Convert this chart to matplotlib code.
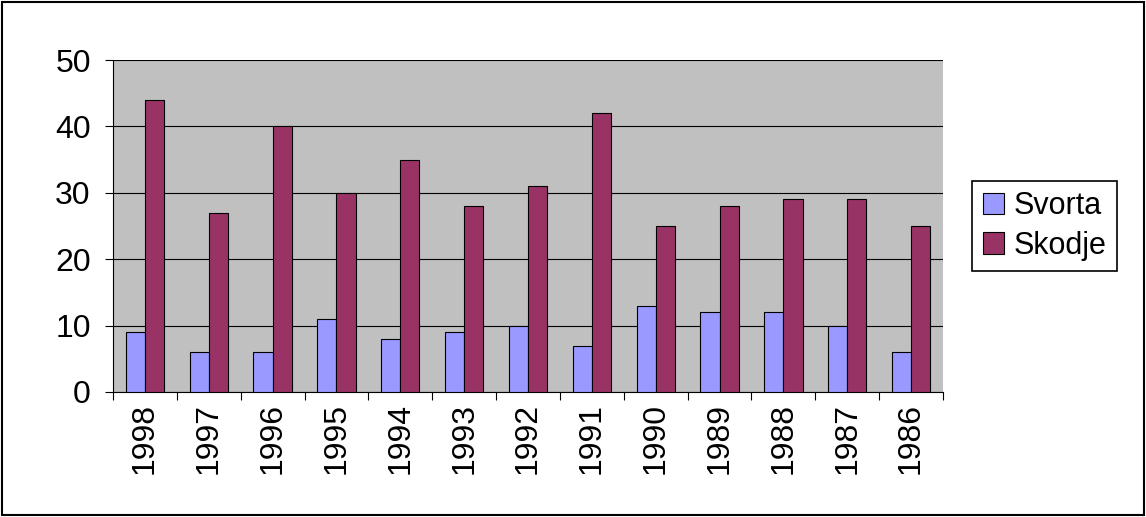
import numpy as np
import matplotlib.pyplot as plt
from matplotlib.patches import Rectangle

plt.rcParams['font.family'] = ['Liberation Sans', 'DejaVu Sans']

years = ["1998", "1997", "1996", "1995", "1994", "1993", "1992", "1991",
         "1990", "1989", "1988", "1987", "1986"]
svorta = [9, 6, 6, 11, 8, 9, 10, 7, 13, 12, 12, 10, 6]
skodje = [44, 27, 40, 30, 35, 28, 31, 42, 25, 28, 29, 29, 25]

fig = plt.figure(figsize=(11.46, 5.17), dpi=100)
fig.patches.append(Rectangle((0.002, 0.004), 0.996, 0.992, transform=fig.transFigure,
                             fill=False, edgecolor="black", linewidth=1.5))
ax = fig.add_axes([0.0986, 0.2418, 0.7243, 0.642])
ax.set_facecolor("#C0C0C0")

x = np.arange(len(years))
w = 0.3
ax.bar(x - w / 2, svorta, w, color="#9999FF", edgecolor="black", linewidth=0.8, label="Svorta", zorder=3)
ax.bar(x + w / 2, skodje, w, color="#993366", edgecolor="black", linewidth=0.8, label="Skodje", zorder=3)

ax.set_xlim(-0.5, len(years) - 0.5)
ax.set_ylim(0, 50)
ax.set_yticks(range(0, 51, 10))
ax.yaxis.grid(True, color="black", linewidth=0.8, zorder=0)
ax.set_axisbelow(True)
ax.set_xticks(np.arange(-0.5, len(years), 1))
ax.set_xticklabels([])
ax.set_xticks(x, minor=True)
ax.set_xticklabels(years, minor=True, rotation=90, fontsize=23)
ax.tick_params(axis="x", which="minor", length=0, pad=8)
ax.tick_params(axis="x", which="major", direction="out", length=6)
ax.tick_params(axis="y", labelsize=23, direction="out", length=6, pad=10)
for s in ["top", "right"]:
    ax.spines[s].set_visible(False)

leg = ax.legend(loc="center left", bbox_to_anchor=(1.035, 0.5), fontsize=22,
                frameon=True, fancybox=False, edgecolor="black",
                handlelength=0.7, handleheight=0.7, handletextpad=0.3,
                borderpad=0.35, labelspacing=0.3, borderaxespad=0)
leg.get_frame().set_linewidth(1.2)
leg.get_frame().set_alpha(1)

fig.savefig("out.png", dpi=100)
